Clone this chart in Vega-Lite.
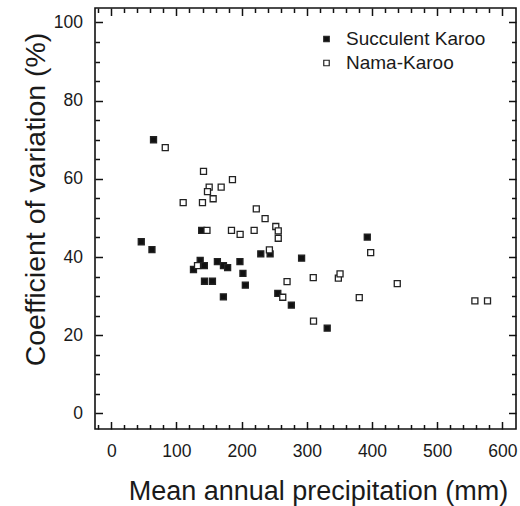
{
  "$schema": "https://vega.github.io/schema/vega-lite/v6.json",
  "autosize": {"type": "none"},
  "padding": {"left": 95, "top": 8, "right": 4, "bottom": 77},
  "width": 421,
  "height": 421,
  "background": "white",
  "config": {
    "view": {"stroke": "#111", "strokeWidth": 1.6},
    "font": "Liberation Sans",
    "axis": {"grid": false, "domain": false, "tickColor": "#111", "tickWidth": 1.5, "labelColor": "#1a1a1a", "titleColor": "#1a1a1a", "labelFont": "Liberation Sans", "titleFont": "Liberation Sans", "titleFontWeight": "normal"}
  },
  "data": {"values": [
    {"p": 64.8, "cv": 70.0, "region": "Succulent Karoo"},
    {"p": 46.0, "cv": 43.9, "region": "Succulent Karoo"},
    {"p": 62.4, "cv": 41.9, "region": "Succulent Karoo"},
    {"p": 138.7, "cv": 46.8, "region": "Succulent Karoo"},
    {"p": 229.4, "cv": 40.8, "region": "Succulent Karoo"},
    {"p": 243.7, "cv": 40.8, "region": "Succulent Karoo"},
    {"p": 292.0, "cv": 39.7, "region": "Succulent Karoo"},
    {"p": 126.1, "cv": 36.8, "region": "Succulent Karoo"},
    {"p": 136.4, "cv": 39.1, "region": "Succulent Karoo"},
    {"p": 142.8, "cv": 37.8, "region": "Succulent Karoo"},
    {"p": 162.8, "cv": 38.8, "region": "Succulent Karoo"},
    {"p": 172.1, "cv": 37.8, "region": "Succulent Karoo"},
    {"p": 178.5, "cv": 37.3, "region": "Succulent Karoo"},
    {"p": 197.4, "cv": 38.8, "region": "Succulent Karoo"},
    {"p": 202.0, "cv": 35.8, "region": "Succulent Karoo"},
    {"p": 143.0, "cv": 33.8, "region": "Succulent Karoo"},
    {"p": 155.2, "cv": 33.8, "region": "Succulent Karoo"},
    {"p": 205.7, "cv": 32.8, "region": "Succulent Karoo"},
    {"p": 172.0, "cv": 29.8, "region": "Succulent Karoo"},
    {"p": 255.5, "cv": 30.7, "region": "Succulent Karoo"},
    {"p": 276.3, "cv": 27.7, "region": "Succulent Karoo"},
    {"p": 392.8, "cv": 45.1, "region": "Succulent Karoo"},
    {"p": 331.3, "cv": 21.8, "region": "Succulent Karoo"},
    {"p": 82.8, "cv": 68.0, "region": "Nama-Karoo"},
    {"p": 141.5, "cv": 61.9, "region": "Nama-Karoo"},
    {"p": 150.2, "cv": 57.9, "region": "Nama-Karoo"},
    {"p": 147.6, "cv": 56.7, "region": "Nama-Karoo"},
    {"p": 168.6, "cv": 57.9, "region": "Nama-Karoo"},
    {"p": 185.9, "cv": 59.8, "region": "Nama-Karoo"},
    {"p": 110.3, "cv": 53.9, "region": "Nama-Karoo"},
    {"p": 139.9, "cv": 53.9, "region": "Nama-Karoo"},
    {"p": 156.3, "cv": 54.9, "region": "Nama-Karoo"},
    {"p": 222.5, "cv": 52.3, "region": "Nama-Karoo"},
    {"p": 236.0, "cv": 49.8, "region": "Nama-Karoo"},
    {"p": 252.4, "cv": 47.8, "region": "Nama-Karoo"},
    {"p": 256.2, "cv": 46.7, "region": "Nama-Karoo"},
    {"p": 256.2, "cv": 44.8, "region": "Nama-Karoo"},
    {"p": 146.8, "cv": 46.8, "region": "Nama-Karoo"},
    {"p": 184.4, "cv": 46.8, "region": "Nama-Karoo"},
    {"p": 197.7, "cv": 45.8, "region": "Nama-Karoo"},
    {"p": 219.2, "cv": 46.8, "region": "Nama-Karoo"},
    {"p": 242.6, "cv": 41.8, "region": "Nama-Karoo"},
    {"p": 132.3, "cv": 37.8, "region": "Nama-Karoo"},
    {"p": 269.7, "cv": 33.7, "region": "Nama-Karoo"},
    {"p": 263.1, "cv": 29.7, "region": "Nama-Karoo"},
    {"p": 309.9, "cv": 34.7, "region": "Nama-Karoo"},
    {"p": 348.4, "cv": 34.6, "region": "Nama-Karoo"},
    {"p": 351.0, "cv": 35.7, "region": "Nama-Karoo"},
    {"p": 398.0, "cv": 41.1, "region": "Nama-Karoo"},
    {"p": 438.8, "cv": 33.2, "region": "Nama-Karoo"},
    {"p": 380.5, "cv": 29.6, "region": "Nama-Karoo"},
    {"p": 557.9, "cv": 28.8, "region": "Nama-Karoo"},
    {"p": 577.3, "cv": 28.8, "region": "Nama-Karoo"},
    {"p": 310.3, "cv": 23.6, "region": "Nama-Karoo"}
  ]},
  "resolve": {"axis": {"x": "independent", "y": "independent"}},
  "layer": [
    {
      "mark": {"type": "point", "opacity": 0},
      "encoding": {
        "x": {"field": "p", "type": "quantitative", "scale": {"domain": [-25, 621], "nice": false, "zero": false},
          "axis": {"orient": "bottom", "values": [-20, 20, 40, 60, 80, 120, 140, 160, 180, 220, 240, 260, 280, 320, 340, 360, 380, 420, 440, 460, 480, 520, 540, 560, 580], "labels": false, "title": null, "tickSize": -4.5}},
        "y": {"field": "cv", "type": "quantitative", "scale": {"domain": [-4, 103.7], "nice": false, "zero": false},
          "axis": {"orient": "left", "values": [5, 10, 15, 25, 30, 35, 45, 50, 55, 65, 70, 75, 85, 90, 95], "labels": false, "title": null, "tickSize": -4.5}}
      }
    },
    {
      "mark": {"type": "point", "opacity": 0},
      "encoding": {
        "x": {"field": "p", "type": "quantitative",
          "axis": {"orient": "top", "values": [0, 100, 200, 300, 400, 500, 600], "labels": false, "title": null, "tickSize": -7.5}},
        "y": {"field": "cv", "type": "quantitative",
          "axis": {"orient": "right", "values": [0, 20, 40, 60, 80, 100], "labels": false, "title": null, "tickSize": -7.5}}
      }
    },
    {
      "mark": {"type": "point", "opacity": 0},
      "encoding": {
        "x": {"field": "p", "type": "quantitative",
          "axis": {"orient": "top", "values": [-20, 20, 40, 60, 80, 120, 140, 160, 180, 220, 240, 260, 280, 320, 340, 360, 380, 420, 440, 460, 480, 520, 540, 560, 580], "labels": false, "title": null, "tickSize": -4.5}},
        "y": {"field": "cv", "type": "quantitative",
          "axis": {"orient": "right", "values": [5, 10, 15, 25, 30, 35, 45, 50, 55, 65, 70, 75, 85, 90, 95], "labels": false, "title": null, "tickSize": -4.5}}
      }
    },
    {
      "mark": {"type": "point", "shape": "square", "filled": true, "size": 36, "stroke": "#222", "strokeWidth": 1.3, "opacity": 1},
      "encoding": {
        "x": {"field": "p", "type": "quantitative",
          "axis": {"orient": "bottom", "values": [0, 100, 200, 300, 400, 500, 600], "tickSize": -7.5, "labelPadding": 21, "labelFontSize": 17.5, "title": "Mean annual precipitation (mm)", "titleFontSize": 27, "titleX": 223, "titleY": 70, "titleBaseline": "alphabetic", "titleAlign": "center"}},
        "y": {"field": "cv", "type": "quantitative",
          "axis": {"orient": "left", "values": [0, 20, 40, 60, 80, 100], "tickSize": -7.5, "labelPadding": 20, "labelFontSize": 17.5, "title": "Coefficient of variation (%)", "titleFontSize": 28.5, "titleX": -51, "titleY": 191, "titleBaseline": "alphabetic", "titleAlign": "center", "titleAngle": -90}},
        "fill": {"field": "region", "type": "nominal",
          "scale": {"domain": ["Succulent Karoo", "Nama-Karoo"], "range": ["#111111", "#ffffff"]},
          "legend": {"title": null, "orient": "none", "legendX": 222, "legendY": 21.5, "symbolType": "square", "symbolSize": 30, "symbolStrokeColor": "#222", "symbolStrokeWidth": 1.2, "labelFontSize": 19, "labelFont": "Liberation Sans", "labelColor": "#1a1a1a", "labelOffset": 10, "rowPadding": 4}}
      }
    }
  ]
}
